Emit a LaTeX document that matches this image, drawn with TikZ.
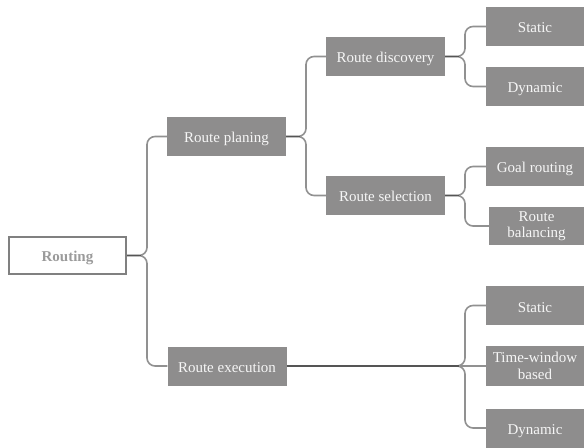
\documentclass[tikz,border=0pt]{standalone}
\usepackage{fontspec}
\setmainfont{Liberation Serif}
\definecolor{boxfill}{RGB}{142,141,141}
\definecolor{boxtext}{RGB}{246,246,246}
\definecolor{trunk}{RGB}{145,145,145}
\definecolor{stubc}{RGB}{85,85,85}
\definecolor{rootline}{RGB}{128,128,128}
\definecolor{roottext}{RGB}{155,155,155}
\begin{document}
\begin{tikzpicture}[x=1bp,y=-1bp,
  basebox/.style={fill=boxfill,text=boxtext,inner sep=0pt,minimum width=119bp,minimum height=39bp,align=center,font=\fontsize{15bp}{16.5bp}\selectfont},
  box/.style={basebox,text height=13bp,text depth=0bp},
  leaf/.style={box,minimum width=98bp},
  twoleaf/.style={basebox,minimum width=98bp},
  rootbox/.style={draw=rootline,line width=2bp,fill=white,text=roottext,inner sep=0pt,minimum width=117bp,minimum height=37bp,font=\fontsize{15bp}{16.5bp}\selectfont\bfseries,text height=13bp,text depth=0bp},
  conn/.style={draw=trunk,line width=1.6bp,rounded corners=8bp},
  stub/.style={draw=stubc,line width=1.6bp}]
\useasboundingbox (0,0) rectangle (584,448);
\node[rootbox] (root) at (67.5,255.5) {Routing};
\node[box] (plan) at (226.5,136.5) {Route planing};
\node[box] (exec) at (227,366) {Route execution};
\node[box] (disc) at (385.5,56.5) {Route discovery};
\node[box] (sel) at (385.5,195.5) {Route selection};
\node[leaf] (s1) at (535,26.5) {Static};
\node[leaf] (d1) at (535,86.5) {Dynamic};
\node[leaf] (goal) at (535,166.5) {Goal routing};
\node[twoleaf,minimum width=95bp,minimum height=38bp] (bal) at (536.5,226) {Route\\balancing};
\node[twoleaf,minimum height=40bp] (tw) at (535,366) {Time-window\\based};
\node[leaf] (s2) at (535,305.5) {Static};
\node[leaf] (d2) at (535,428) {Dynamic};
\coordinate (t0) at (147,0);
\coordinate (t1) at (306,0);
\coordinate (t2) at (465,0);
% root
\foreach \c in {plan,exec}
  \draw[conn] (root.east) -- (root.east -| t0) -- (\c.west -| t0) -- (\c.west);
\draw[stub] (root.east) -- ([xshift=-6bp]root.east -| t0);
% planing
\foreach \c in {disc,sel}
  \draw[conn] (plan.east) -- (plan.east -| t1) -- (\c.west -| t1) -- (\c.west);
\draw[stub] (plan.east) -- ([xshift=-6bp]plan.east -| t1);
% discovery
\foreach \c in {s1,d1}
  \draw[conn] (disc.east) -- (disc.east -| t2) -- (\c.west -| t2) -- (\c.west);
\draw[stub] (disc.east) -- ([xshift=-6bp]disc.east -| t2);
% selection
\foreach \c in {goal,bal}
  \draw[conn] (sel.east) -- (sel.east -| t2) -- (\c.west -| t2) -- (\c.west);
\draw[stub] (sel.east) -- ([xshift=-6bp]sel.east -| t2);
% execution
\foreach \c in {s2,d2}
  \draw[conn] (exec.east) -- (exec.east -| t2) -- (\c.west -| t2) -- (\c.west);
\draw[conn] (exec.east) -- (tw.west);
\draw[stub] (exec.east) -- ([xshift=-6bp]exec.east -| t2);
\end{tikzpicture}
\end{document}
